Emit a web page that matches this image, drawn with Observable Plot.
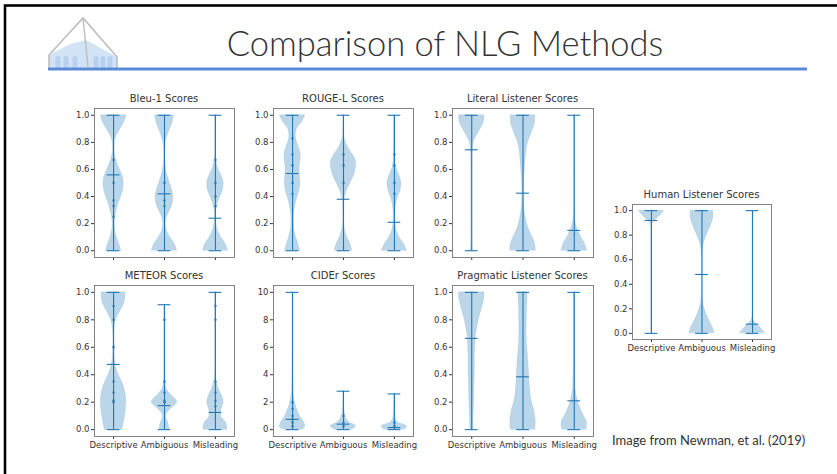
<!DOCTYPE html>
<html>
<head>
<meta charset="utf-8">
<script src="https://cdn.jsdelivr.net/npm/d3@7"></script>
<script src="https://cdn.jsdelivr.net/npm/@observablehq/plot@0.6"></script>
<style>
  html, body { margin: 0; padding: 0; background: #fff; }
  #slide { position: relative; width: 837px; height: 474px; overflow: hidden; background: #fff; }
  .ptitle { position: absolute; font-family: "DejaVu Sans", sans-serif; font-size: 10px; color: #333; text-align: center; white-space: nowrap; transform: translateX(-50%); }
</style>
</head>
<body>
<div id="slide"></div>
<script>
// ---------- data ----------
const categories = ["Descriptive", "Ambiguous", "Misleading"];
const unitTicks = [0, 0.2, 0.4, 0.6, 0.8, 1.0];
const ciderTicks = [0, 2, 4, 6, 8, 10];
const unitLevels = [0, 0.05, 0.1, 0.15, 0.2, 0.25, 0.3, 0.35, 0.4, 0.45, 0.5, 0.55, 0.6, 0.65, 0.7, 0.75, 0.8, 0.85, 0.9, 0.95, 1.0];
const ciderLevels = [0, 0.25, 0.5, 0.75, 1, 1.5, 2, 2.6, 2.8, 3.5, 5, 6.5, 8, 10];

// violin half-widths (fraction of the widest point) at each level
const bleuDescriptive = [0.6, 0.45, 0.25, 0.12, 0.08, 0.12, 0.25, 0.4, 0.6, 0.75, 0.8, 0.72, 0.5, 0.28, 0.12, 0.06, 0.08, 0.25, 0.55, 0.85, 1.0];
const bleuAmbiguous   = [1.0, 0.8, 0.45, 0.18, 0.1, 0.2, 0.45, 0.65, 0.7, 0.6, 0.42, 0.25, 0.12, 0.05, 0.03, 0.04, 0.1, 0.25, 0.45, 0.65, 0.75];
const bleuMisleading  = [1.0, 0.8, 0.45, 0.2, 0.08, 0.04, 0.08, 0.2, 0.4, 0.6, 0.65, 0.5, 0.25, 0.1, 0.04, 0.02, 0.02, 0.02, 0.02, 0.03, 0.04];
const bleuMeans = [0.56, 0.42, 0.24];
const bleuMins = [0, 0, 0];
const bleuMaxs = [1, 1, 1];
const bleuDots = [[1, 0.5], [1, 0.37], [1, 0.33], [1, 0.25], [1, 0.67], [2, 0.5], [2, 0.37], [2, 0.33], [3, 0.5], [3, 0.4], [3, 0.33], [3, 0.67]];

const rougeDescriptive = [0.6, 0.45, 0.28, 0.15, 0.1, 0.1, 0.15, 0.25, 0.4, 0.55, 0.62, 0.58, 0.55, 0.6, 0.65, 0.55, 0.35, 0.25, 0.35, 0.75, 1.0];
const rougeAmbiguous   = [0.7, 0.55, 0.3, 0.12, 0.05, 0.03, 0.03, 0.05, 0.12, 0.3, 0.55, 0.8, 0.95, 1.0, 0.8, 0.45, 0.18, 0.05, 0.02, 0.02, 0.02];
const rougeMisleading  = [1.0, 0.75, 0.4, 0.18, 0.08, 0.06, 0.08, 0.15, 0.3, 0.5, 0.55, 0.42, 0.2, 0.08, 0.05, 0.03, 0.02, 0.02, 0.02, 0.02, 0.02];
const rougeMeans = [0.57, 0.38, 0.21];
const rougeMins = [0, 0, 0];
const rougeMaxs = [1, 1, 1];
const rougeDots = [[1, 0.71], [1, 0.63], [1, 0.5], [1, 0.83], [1, 0.42], [2, 0.71], [2, 0.63], [2, 0.5], [3, 0.71], [3, 0.63], [3, 0.5], [3, 0.42]];

const literalDescriptive = [0.08, 0.05, 0.04, 0.04, 0.04, 0.04, 0.04, 0.04, 0.04, 0.04, 0.04, 0.04, 0.04, 0.04, 0.05, 0.08, 0.15, 0.4, 0.7, 0.95, 1.0];
const literalAmbiguous   = [1.0, 0.95, 0.75, 0.5, 0.32, 0.2, 0.12, 0.08, 0.06, 0.06, 0.08, 0.1, 0.14, 0.18, 0.22, 0.28, 0.4, 0.6, 0.8, 0.95, 0.95];
const literalMisleading  = [1.0, 0.85, 0.55, 0.3, 0.12, 0.05, 0.02, 0.02, 0.02, 0.02, 0.02, 0.02, 0.02, 0.02, 0.02, 0.02, 0.02, 0.02, 0.02, 0.02, 0.02];
const literalMeans = [0.745, 0.425, 0.15];
const literalMins = [0, 0, 0];
const literalMaxs = [1, 1, 1];
const literalDots = [];

const meteorDescriptive = [0.7, 0.8, 0.9, 0.97, 1.0, 0.97, 0.85, 0.65, 0.4, 0.2, 0.1, 0.06, 0.04, 0.03, 0.04, 0.08, 0.2, 0.45, 0.75, 0.92, 0.95];
const meteorAmbiguous   = [0.4, 0.3, 0.12, 0.5, 1.0, 0.55, 0.15, 0.05, 0.02, 0.02, 0.02, 0.02, 0.02, 0.02, 0.02, 0.02, 0.02, 0.02, 0.02, null, null];
const meteorMisleading  = [0.95, 0.85, 0.45, 0.5, 0.65, 0.5, 0.25, 0.1, 0.04, 0.02, 0.02, 0.02, 0.02, 0.02, 0.02, 0.02, 0.02, 0.02, 0.02, 0.02, 0.02];
const meteorMeans = [0.475, 0.175, 0.125];
const meteorMins = [0, 0, 0];
const meteorMaxs = [1, 0.91, 1];
const meteorDots = [[1, 0.9], [1, 0.8], [1, 0.35], [1, 0.27], [1, 0.2], [1, 0.21], [1, 0.6], [2, 0.8], [2, 0.35], [2, 0.2], [2, 0.21], [2, 0.27], [3, 0.8], [3, 0.35], [3, 0.21], [3, 0.17], [3, 0.9], [3, 0.27]];

const ciderDescriptive = [0.8, 1.0, 0.92, 0.75, 0.58, 0.35, 0.18, 0.08, 0.05, 0.03, 0.015, 0.01, 0.01, 0.01];
const ciderAmbiguous   = [0.7, 1.0, 0.5, 0.25, 0.14, 0.07, 0.03, 0.02, 0.02, null, null, null, null, null];
const ciderMisleading  = [0.8, 1.0, 0.3, 0.12, 0.07, 0.03, 0.02, 0.02, null, null, null, null, null, null];
const ciderMeans = [0.75, 0.4, 0.15];
const ciderMins = [0, 0, 0];
const ciderMaxs = [10, 2.8, 2.6];
const ciderDots = [[1, 0.25], [1, 0.5], [1, 0.75], [1, 1.0], [1, 1.5], [1, 2.0], [2, 0.25], [2, 0.5], [2, 1.0], [3, 0.25], [3, 0.5]];

const pragDescriptive = [0.12, 0.12, 0.14, 0.16, 0.18, 0.2, 0.2, 0.22, 0.24, 0.25, 0.24, 0.25, 0.28, 0.3, 0.35, 0.45, 0.55, 0.7, 0.85, 0.97, 1.0];
const pragAmbiguous   = [0.95, 1.0, 0.95, 0.85, 0.7, 0.6, 0.55, 0.5, 0.48, 0.45, 0.42, 0.38, 0.33, 0.3, 0.28, 0.28, 0.3, 0.3, 0.32, 0.35, 0.35];
const pragMisleading  = [0.95, 1.0, 0.75, 0.5, 0.3, 0.18, 0.1, 0.08, 0.07, 0.06, 0.06, 0.05, 0.05, 0.05, 0.05, 0.05, 0.05, 0.05, 0.05, 0.05, 0.05];
const pragMeans = [0.665, 0.385, 0.21];
const pragMins = [0, 0, 0];
const pragMaxs = [1, 1, 1];
const pragDots = [];

const humanDescriptive = [0.02, 0.02, 0.02, 0.02, 0.02, 0.02, 0.02, 0.02, 0.02, 0.02, 0.02, 0.02, 0.02, 0.02, 0.02, 0.02, 0.02, 0.02, 0.1, 0.6, 1.0];
const humanAmbiguous   = [1.0, 0.85, 0.6, 0.38, 0.2, 0.08, 0.03, 0.01, 0.01, 0.01, 0.01, 0.01, 0.01, 0.03, 0.08, 0.2, 0.38, 0.6, 0.78, 0.9, 0.9];
const humanMisleading  = [1.0, 0.6, 0.12, 0.02, 0.01, 0.01, 0.01, 0.01, 0.01, 0.01, 0.01, 0.01, 0.01, 0.01, 0.01, 0.01, 0.01, 0.01, 0.01, 0.01, 0.01];
const humanMeans = [0.92, 0.48, 0.075];
const humanMins = [0, 0, 0];
const humanMaxs = [1, 1, 1];
const humanDots = [];

const slideTitle = "Comparison of NLG Methods";
const captionText = "Image from Newman, et al. (2019)";

// ---------- layout ----------
const C0 = "#1f77b4";
const slide = document.getElementById("slide");

const panels = [
  {title: "Bleu-1 Scores", levels: unitLevels, widths: [bleuDescriptive, bleuAmbiguous, bleuMisleading], means: bleuMeans, mins: bleuMins, maxs: bleuMaxs, dots: bleuDots, ticks: unitTicks, fmt: ".1f", domain: [-0.05, 1.05], frame: [94, 108, 140, 149], labels: false},
  {title: "ROUGE-L Scores", levels: unitLevels, widths: [rougeDescriptive, rougeAmbiguous, rougeMisleading], means: rougeMeans, mins: rougeMins, maxs: rougeMaxs, dots: rougeDots, ticks: unitTicks, fmt: ".1f", domain: [-0.05, 1.05], frame: [273, 108, 140, 149], labels: false},
  {title: "Literal Listener Scores", levels: unitLevels, widths: [literalDescriptive, literalAmbiguous, literalMisleading], means: literalMeans, mins: literalMins, maxs: literalMaxs, dots: literalDots, ticks: unitTicks, fmt: ".1f", domain: [-0.05, 1.05], frame: [452, 108, 141, 149], labels: false},
  {title: "METEOR Scores", levels: unitLevels, widths: [meteorDescriptive, meteorAmbiguous, meteorMisleading], means: meteorMeans, mins: meteorMins, maxs: meteorMaxs, dots: meteorDots, ticks: unitTicks, fmt: ".1f", domain: [-0.05, 1.05], frame: [94, 285, 140, 151], labels: true},
  {title: "CIDEr Scores", levels: ciderLevels, widths: [ciderDescriptive, ciderAmbiguous, ciderMisleading], means: ciderMeans, mins: ciderMins, maxs: ciderMaxs, dots: ciderDots, ticks: ciderTicks, fmt: "d", domain: [-0.5, 10.5], frame: [273, 285, 140, 151], labels: true},
  {title: "Pragmatic Listener Scores", levels: unitLevels, widths: [pragDescriptive, pragAmbiguous, pragMisleading], means: pragMeans, mins: pragMins, maxs: pragMaxs, dots: pragDots, ticks: unitTicks, fmt: ".1f", domain: [-0.05, 1.05], frame: [452, 285, 141, 151], labels: true},
  {title: "Human Listener Scores", levels: unitLevels, widths: [humanDescriptive, humanAmbiguous, humanMisleading], means: humanMeans, mins: humanMins, maxs: humanMaxs, dots: humanDots, ticks: unitTicks, fmt: ".1f", domain: [-0.05, 1.05], frame: [632, 204, 139, 135], labels: true}
];

const mL = 34, mT = 2, mR = 2, mB = 22;

for (const p of panels) {
  const [fx, fy, fw, fh] = p.frame;
  const marks = [];
  p.widths.forEach((w, i) => {
    const pos = i + 1;
    const rows = p.levels.map((y, k) => ({y, w: w[k]}))
      .filter(d => d.w != null && d.y >= p.mins[i] && d.y <= p.maxs[i]);
    marks.push(Plot.areaX(rows, {
      y: "y",
      x1: d => pos - 0.25 * d.w,
      x2: d => pos + 0.25 * d.w,
      fill: C0, fillOpacity: 0.3,
      stroke: C0, strokeOpacity: 0.12, strokeWidth: 0.8,
      curve: "monotone-y"
    }));
  });
  const stats = categories.map((c, i) => ({pos: i + 1, min: p.mins[i], max: p.maxs[i], mean: p.means[i]}));
  const caps = stats.flatMap(s => [{pos: s.pos, v: s.min}, {pos: s.pos, v: s.max}, {pos: s.pos, v: s.mean}]);
  marks.push(Plot.dot(p.dots, {x: d => d[0], y: d => d[1], r: 1.4, fill: C0, fillOpacity: 0.7, stroke: "none"}));
  marks.push(Plot.ruleX(stats, {x: "pos", y1: "min", y2: "max", stroke: C0, strokeWidth: 1.1}));
  marks.push(Plot.ruleY(caps, {y: "v", x1: d => d.pos - 0.125, x2: d => d.pos + 0.125, stroke: C0, strokeWidth: 1.1}));
  marks.push(Plot.frame({stroke: "#777", strokeWidth: 0.9}));

  const chart = Plot.plot({
    width: fw + mL + mR,
    height: fh + mT + mB,
    marginLeft: mL, marginRight: mR, marginTop: mT, marginBottom: mB,
    style: {fontFamily: "DejaVu Sans, sans-serif", fontSize: "8.5px", color: "#333", background: "transparent", overflow: "visible"},
    x: {domain: [0.625, 3.375], ticks: [1, 2, 3], tickSize: 3, tickPadding: 2,
        tickFormat: p.labels ? (d => categories[d - 1]) : (() => ""), label: null},
    y: {domain: p.domain, ticks: p.ticks, tickFormat: d3.format(p.fmt), tickSize: 3, tickPadding: 2, label: null},
    marks
  });
  chart.style.position = "absolute";
  chart.style.left = (fx - mL) + "px";
  chart.style.top = (fy - mT) + "px";
  slide.appendChild(chart);

  const t = document.createElement("div");
  t.className = "ptitle";
  t.textContent = p.title;
  t.style.left = (fx + fw / 2) + "px";
  t.style.top = (fy - 15) + "px";
  slide.appendChild(t);
}

// slide chrome: border, logo, title, rule, caption
const chrome = d3.select(slide).append("svg")
  .attr("width", 837).attr("height", 474)
  .style("position", "absolute").style("left", "0px").style("top", "0px")
  .style("pointer-events", "none");
chrome.append("rect").attr("x", 5).attr("y", 5.5).attr("width", 840).attr("height", 480)
  .attr("fill", "none").attr("stroke", "#000").attr("stroke-width", 2.6);
const logo = chrome.append("g");
logo.append("path").attr("d", "M49,55 L70,44 L86,40 L117,57 L117,68 L49,68 Z").attr("fill", "#d3e3f6");
for (const ax of [58, 66, 75, 96, 103, 110]) {
  logo.append("rect").attr("x", ax - 2.5).attr("y", 56).attr("width", 5).attr("height", 12).attr("rx", 2.5).attr("fill", "#b8d0ef");
}
logo.append("path").attr("d", "M49,68 L49,55 L83,18 L117,57 L117,68").attr("fill", "none").attr("stroke", "#bdbdbd").attr("stroke-width", 1.6);
logo.append("path").attr("d", "M83,18 L88,67").attr("fill", "none").attr("stroke", "#bdbdbd").attr("stroke-width", 1.4);
chrome.append("rect").attr("x", 48).attr("y", 67.5).attr("width", 759).attr("height", 3).attr("fill", "#5b8bd6");
chrome.append("text").attr("x", 445).attr("y", 56).attr("text-anchor", "middle")
  .attr("font-family", "Lato, sans-serif").attr("font-weight", 300).attr("font-size", 34.5).attr("fill", "#333").text(slideTitle);
chrome.append("text").attr("x", 612).attr("y", 445)
  .attr("font-family", "Lato, sans-serif").attr("font-size", 13).attr("fill", "#333").text(captionText);
</script>
</body>
</html>
